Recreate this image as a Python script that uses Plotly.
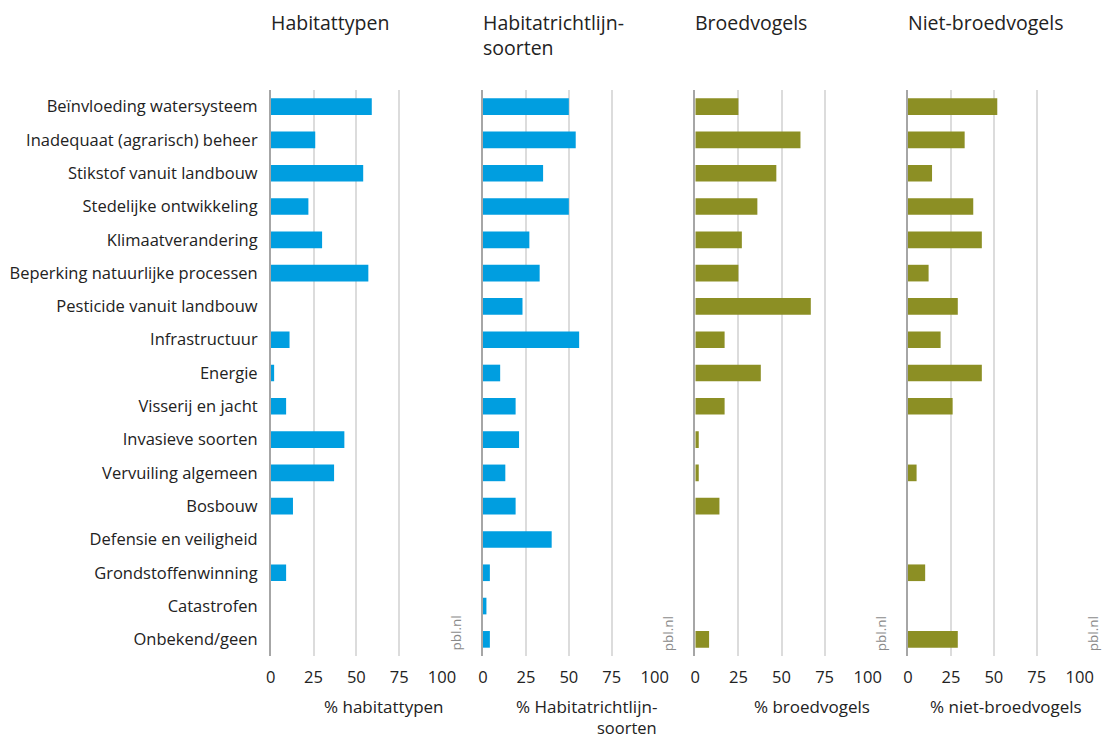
import plotly.graph_objects as go

categories = [
    "Beïnvloeding watersysteem", "Inadequaat (agrarisch) beheer", "Stikstof vanuit landbouw",
    "Stedelijke ontwikkeling", "Klimaatverandering", "Beperking natuurlijke processen",
    "Pesticide vanuit landbouw", "Infrastructuur", "Energie", "Visserij en jacht",
    "Invasieve soorten", "Vervuiling algemeen", "Bosbouw", "Defensie en veiligheid",
    "Grondstoffenwinning", "Catastrofen", "Onbekend/geen",
]
habitattypen = [59, 26, 54, 22, 30, 57, 0, 11, 2, 9, 43, 37, 13, 0, 9, 0, 0]
habitatrichtlijnsoorten = [50, 54, 35, 50, 27, 33, 23, 56, 10, 19, 21, 13, 19, 40, 4, 2, 4]
broedvogels = [25, 61, 47, 36, 27, 25, 67, 17, 38, 17, 2, 2, 14, 0, 0, 0, 8]
niet_broedvogels = [52, 33, 14, 38, 43, 12, 29, 19, 43, 26, 0, 5, 0, 0, 10, 0, 29]

panel_titles = ["Habitattypen", "Habitatrichtlijn-<br>soorten", "Broedvogels", "Niet-broedvogels"]
axis_titles = ["% habitattypen", "% Habitatrichtlijn-", "% broedvogels", "% niet-broedvogels"]
axis_titles_line2 = ["", "soorten", "", ""]
tick_vals = [0, 25, 50, 75, 100]
tick_text = ["0", "25", "50", "75", "100"]

series = [habitattypen, habitatrichtlijnsoorten, broedvogels, niet_broedvogels]
colors = ["#009EE0", "#009EE0", "#8C8F24", "#8C8F24"]

W, H = 1103, 740
x_px = [(270.7, 442.0), (483.0, 654.7), (695.3, 867.7), (908.0, 1079.7)]
y_top, y_bot = 90, 656
FONT = "Open Sans"

fig = go.Figure()
for i, (vals, col) in enumerate(zip(series, colors)):
    n = "" if i == 0 else str(i + 1)
    fig.add_trace(go.Bar(
        x=vals, y=categories, orientation="h", marker=dict(color=col, line=dict(width=0)),
        width=0.5, xaxis="x" + n, yaxis="y" + n, showlegend=False,
    ))
    x0, x1 = x_px[i]
    fig.layout["xaxis" + n] = dict(
        domain=[x0 / W, x1 / W], range=[0, 100], anchor="y" + n, automargin=False,
        tickvals=tick_vals, ticktext=tick_text, showgrid=True, gridcolor="#dcdcdc", gridwidth=1.5,
        zeroline=False, showline=False, ticks="", ticklabelstandoff=9,
        tickfont=dict(family=FONT, size=16.5, color="#222"),
    )
    fig.layout["yaxis" + n] = dict(
        domain=[1 - y_bot / H, 1 - y_top / H], anchor="x" + n, automargin=False,
        categoryorder="array", categoryarray=categories, autorange="reversed",
        showticklabels=(i == 0), showline=True, linecolor="#a6a6a6", linewidth=1.5,
        showgrid=False, zeroline=False, ticks="", ticklabelstandoff=8,
        tickfont=dict(family=FONT, size=16.5, color="#222"),
    )
    fig.add_annotation(
        x=0, xref="x" + n, y=1 - 7 / H, yref="paper", text=panel_titles[i],
        showarrow=False, xanchor="left", yanchor="top", align="left",
        font=dict(family=FONT, size=19.5, color="#222"), xshift=-2,
    )
    fig.add_annotation(
        x=100, xref="x" + n, y=1 - 694 / H, yref="paper", text=axis_titles[i],
        showarrow=False, xanchor="right", yanchor="top", align="right",
        font=dict(family=FONT, size=17, color="#222"), xshift=3, borderpad=0,
    )
    if axis_titles_line2[i]:
        fig.add_annotation(
            x=100, xref="x" + n, y=1 - 740 / H, yref="paper", text=axis_titles_line2[i],
            showarrow=False, xanchor="right", yanchor="bottom", align="right",
            font=dict(family=FONT, size=16.5, color="#222"), xshift=3, borderpad=0,
        )
    fig.add_annotation(
        x=100, xref="x" + n, y=1 - 653 / H, yref="paper", text="pbl.nl",
        showarrow=False, textangle=-90, xanchor="center", yanchor="bottom",
        font=dict(family=FONT, size=13.5, color="#8a8a8a"), xshift=13,
    )

fig.update_layout(
    width=W, height=H, margin=dict(l=0, r=0, t=0, b=0, autoexpand=False),
    plot_bgcolor="white", paper_bgcolor="white", bargap=0.5,
)
fig.write_html(
    "out.html",
    config={"displayModeBar": False},
    post_script="document.body.style.margin='0';document.body.style.overflow='hidden';",
)
